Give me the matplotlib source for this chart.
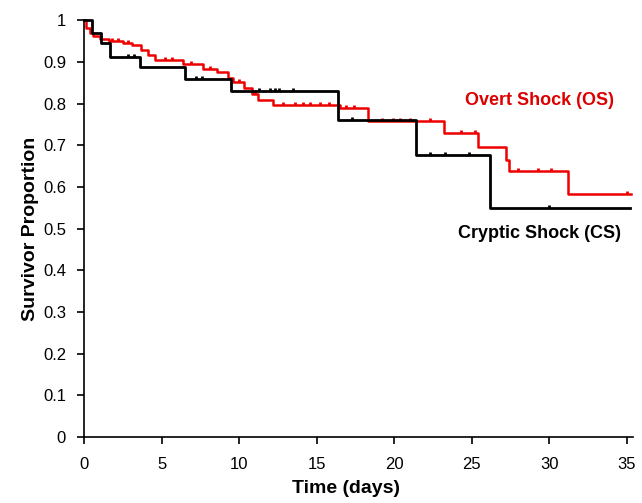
import numpy as np
import matplotlib
matplotlib.use("Agg")
import matplotlib.pyplot as plt

plt.rcParams['font.family'] = ['Liberation Sans', 'DejaVu Sans']

# Cryptic shock (CS) Kaplan-Meier steps
cs_time = [0, 0.5, 1.1, 1.7, 3.6, 6.5, 9.5, 16.4, 21.4, 26.2, 35.2]
cs_surv = [1.0, 0.969, 0.945, 0.912, 0.888, 0.859, 0.831, 0.76, 0.677, 0.549, 0.549]
cs_cens = [2.8, 3.2, 7.2, 7.6, 11.3, 12.0, 12.3, 12.6, 13.5, 17.3, 22.3, 23.3, 24.8, 30.0]

# Overt shock (OS) Kaplan-Meier steps
os_time = [0, 0.15, 0.35, 0.6, 1.0, 1.6, 2.5, 3.1, 3.7, 4.1, 4.6, 6.4, 7.7, 8.6,
           9.3, 9.6, 10.3, 10.8, 11.2, 12.2, 16.5, 18.3, 23.2, 25.4, 27.2, 27.4,
           31.2, 35.3]
os_surv = [1.0, 0.98, 0.97, 0.962, 0.955, 0.95, 0.945, 0.94, 0.928, 0.916, 0.905,
           0.895, 0.882, 0.875, 0.862, 0.851, 0.837, 0.822, 0.808, 0.797, 0.79,
           0.758, 0.729, 0.696, 0.664, 0.638, 0.583, 0.583]
os_cens = [1.8, 2.2, 2.8, 5.2, 5.7, 6.9, 8.1, 10.0, 11.0, 12.8, 13.6, 14.1, 14.6,
           15.2, 15.8, 16.9, 17.4, 19.2, 19.9, 20.4, 21.0, 22.3, 24.3, 25.2,
           28.0, 29.3, 30.1, 35.0]

xticks = [0, 5, 10, 15, 20, 25, 30, 35]
yticks = [0, 0.1, 0.2, 0.3, 0.4, 0.5, 0.6, 0.7, 0.8, 0.9, 1]
ytick_labels = ['0', '0.1', '0.2', '0.3', '0.4', '0.5', '0.6', '0.7', '0.8', '0.9', '1']


def surv_at(times, surv, t):
    i = np.searchsorted(times, t, side='right') - 1
    return surv[i]


fig = plt.figure(figsize=(6.42, 5.03), dpi=100)
ax = fig.add_axes([0.131, 0.131, 0.855, 0.829])

tick_marker = [(0, 0), (0, 1)]

for times, surv, cens, col, lw in [(os_time, os_surv, os_cens, '#ee0000', 1.8),
                                   (cs_time, cs_surv, cs_cens, 'black', 2.0)]:
    ax.step(times, surv, where='post', color=col, lw=lw, clip_on=False)
    cy = [surv_at(times, surv, t) for t in cens]
    ax.plot(cens, cy, ls='none', marker=tick_marker, markersize=5,
            markeredgewidth=2, color=col, clip_on=False)

ax.text(29.35, 0.808, 'Overt Shock (OS)', color='#dd0000', fontsize=13,
        fontweight='bold', ha='center', va='center')
ax.text(29.35, 0.489, 'Cryptic Shock (CS)', color='black', fontsize=13,
        fontweight='bold', ha='center', va='center')

ax.set_xlim(0, 35.4)
ax.set_ylim(0, 1)
ax.set_xticks(xticks)
ax.set_yticks(yticks)
ax.set_yticklabels(ytick_labels)
ax.tick_params(direction='out', length=5, width=1.2, labelsize=12)
ax.tick_params(axis='x', pad=9)
ax.tick_params(axis='y', pad=8)
for s in ['top', 'right']:
    ax.spines[s].set_visible(False)
for s in ['left', 'bottom']:
    ax.spines[s].set_linewidth(1.2)

ax.set_xlabel('Time (days)', fontsize=14, fontweight='bold')
ax.xaxis.set_label_coords(0.477, -0.104)
ax.set_ylabel('Survivor Proportion', fontsize=14, fontweight='bold', labelpad=3)

fig.savefig('out.png', dpi=100)
